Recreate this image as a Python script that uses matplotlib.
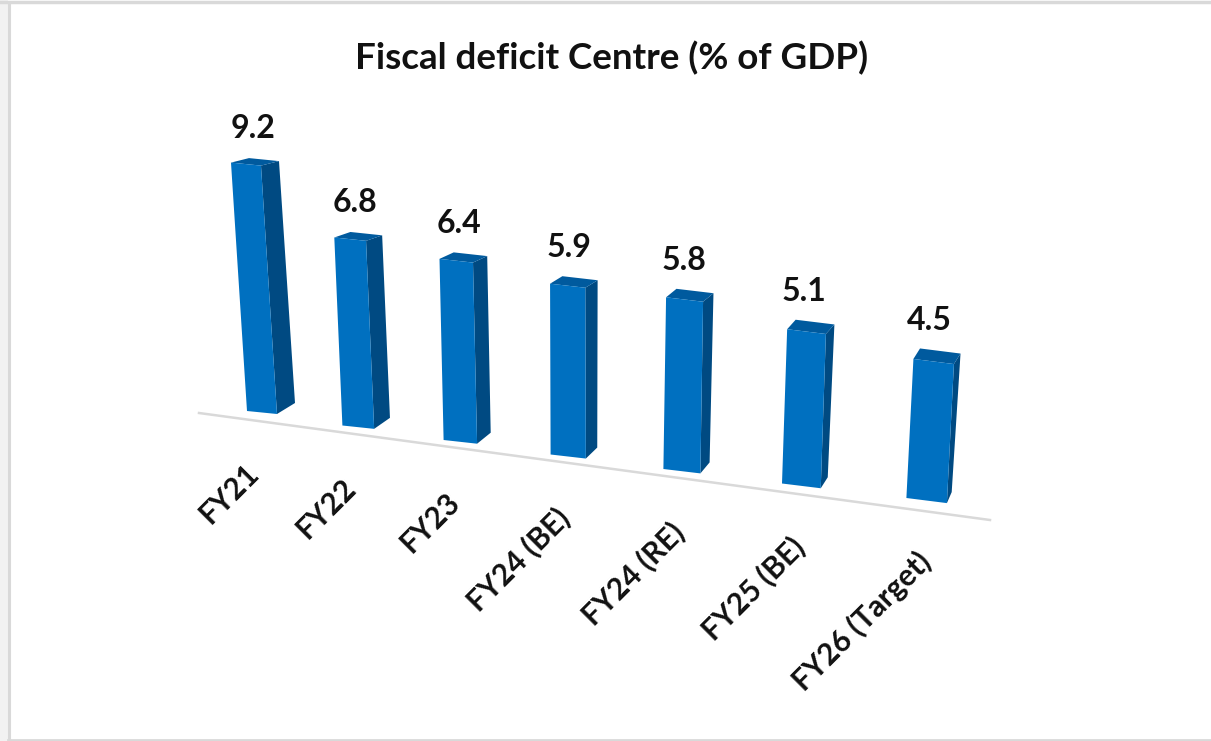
import matplotlib.pyplot as plt
from matplotlib.patches import Polygon

categories = ['FY21', 'FY22', 'FY23', 'FY24 (BE)', 'FY24 (RE)', 'FY25 (BE)', 'FY26 (Target)']
deficit = [9.2, 6.8, 6.4, 5.9, 5.8, 5.1, 4.5]

FRONT = '#0070c0'
SIDE = '#004a82'
TOP = '#005a9e'

plt.rcParams['font.family'] = ['Lato', 'DejaVu Sans']


# rough perspective of the 3d chart, t is the bar index, everything in pixels
def project(t, value):
    x0 = 247 + 92.5 * t + 2.9 * t ** 2
    y0 = 411 + 14.5 * t
    width = 30 + 1.75 * t
    slope = 3 + 0.35 * t
    scale = 27.0 + 0.65 * t
    lean = -1.74 + 0.55 * t
    fl = (x0 + lean * value, y0 - scale * value)
    fr = (fl[0] + width, fl[1] + slope)
    bl = (x0, y0)
    br = (x0 + width, y0 + slope)
    top_depth = (18 - 1.9 * t, -4.5 - 1.0 * t)
    base_depth = (18 - 2.2 * t, -11)
    return fl, fr, bl, br, top_depth, base_depth


fig = plt.figure(figsize=(12.11, 7.41), dpi=100)
ax = fig.add_axes([0, 0, 1, 1])
ax.set_xlim(0, 1211)
ax.set_ylim(741, 0)
ax.axis('off')

# window frame from the screenshot
ax.fill([0, 8, 8, 0], [0, 0, 741, 741], color='#f2f2f2', lw=0)
ax.plot([8.5, 8.5], [3, 741], color='#d9d9d9', lw=2.2)
ax.plot([0, 1211], [1.5, 1.5], color='#d9d9d9', lw=2.5)
ax.plot([8, 1211], [739.5, 739.5], color='#d9d9d9', lw=2)

ax.plot([199, 990], [413, 520], color='#d9d9d9', lw=1.8, zorder=1)

for t, value in enumerate(deficit):
    fl, fr, bl, br, top_depth, base_depth = project(t, value)
    back_l = (fl[0] + top_depth[0], fl[1] + top_depth[1])
    back_r = (fr[0] + top_depth[0], fr[1] + top_depth[1])
    side_b = (br[0] + base_depth[0], br[1] + base_depth[1])
    ax.add_patch(Polygon([fr, back_r, side_b, br], color=SIDE, lw=0, zorder=2))
    ax.add_patch(Polygon([fl, back_l, back_r, fr], color=TOP, lw=0, zorder=2))
    ax.add_patch(Polygon([fl, fr, br, bl], color=FRONT, lw=0, zorder=3))

    cx = (back_l[0] + back_r[0]) / 2
    cy = (back_l[1] + back_r[1]) / 2
    ax.text(cx - 11, cy - 31, f'{value:.1f}', ha='center', va='center',
            fontsize=23, fontweight='bold', color='#111111', zorder=4)

    lx = (bl[0] + br[0]) / 2 - 18 + 1.3 * t
    ly = (bl[1] + br[1]) / 2 + 46
    ax.text(lx, ly, categories[t], rotation=45, rotation_mode='anchor',
            ha='right', va='top', fontsize=21.5, fontweight='bold', color='#111111')

ax.text(612, 58, 'Fiscal deficit Centre (% of GDP)', ha='center', va='center',
        fontsize=26.5, fontweight='bold', color='#111111')

plt.savefig('out.png', dpi=100)
plt.close()
